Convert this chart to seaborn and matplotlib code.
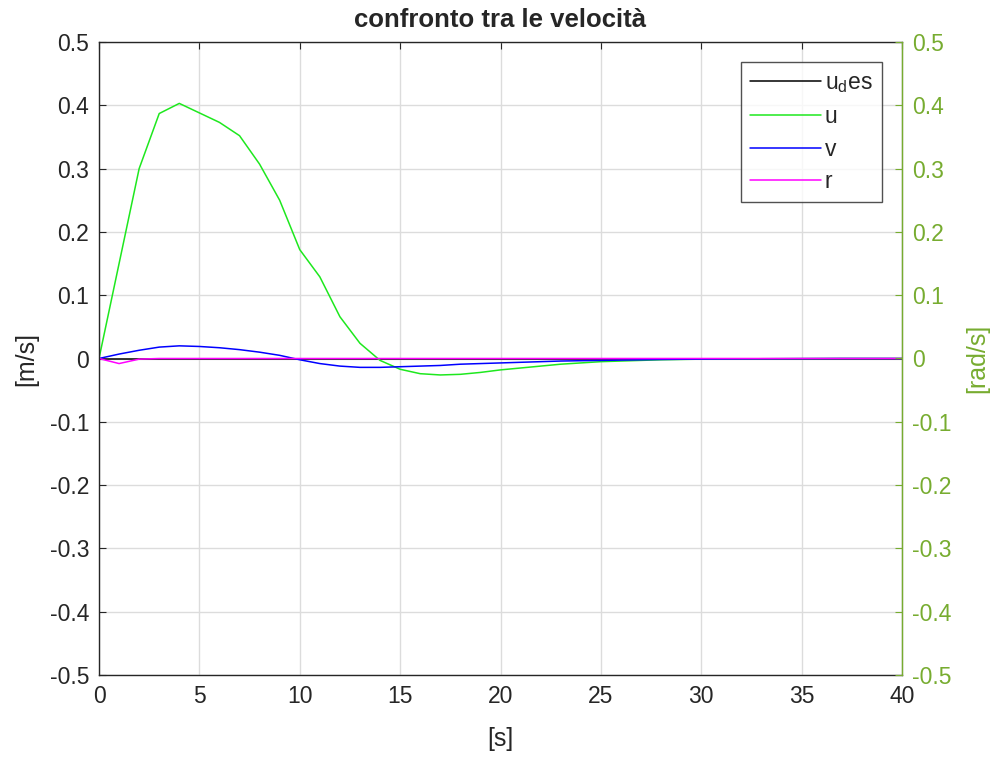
import numpy as np
import pandas as pd
import matplotlib
matplotlib.use("Agg")
import matplotlib.pyplot as plt
import seaborn as sns

# ---- data ----
t = list(range(0, 41))
u_des = [0.0] * 41
u = [0.0, 0.150, 0.300, 0.387, 0.403, 0.388, 0.373, 0.352, 0.307, 0.250,
     0.172, 0.129, 0.066, 0.024, -0.003, -0.017, -0.024, -0.026, -0.025, -0.022,
     -0.018, -0.015, -0.012, -0.009, -0.007, -0.005, -0.004, -0.003, -0.002, -0.0015,
     -0.001, -0.0008, -0.0006, -0.0004, -0.0003, -0.0002, -0.0001, 0.0, 0.0, 0.0, 0.0]
v = [0.0, 0.007, 0.013, 0.018, 0.020, 0.019, 0.017, 0.014, 0.010, 0.005,
     -0.002, -0.008, -0.012, -0.014, -0.014, -0.013, -0.012, -0.011, -0.009, -0.008,
     -0.007, -0.006, -0.005, -0.004, -0.0035, -0.003, -0.0025, -0.002, -0.0015, -0.0012,
     -0.001, -0.0008, -0.0006, -0.0004, -0.0003, -0.0002, -0.0001, 0.0, 0.0, 0.0, 0.0]
r = [0.0, -0.008, -0.001, 0.0, 0.0, 0.0, 0.0, 0.0, 0.0, 0.0,
     0.0, 0.0, 0.0, 0.0, 0.0, 0.0, 0.0, 0.0, 0.0, 0.0,
     0.0, 0.0, 0.0, 0.0, 0.0, 0.0, 0.0, 0.0, 0.0, 0.0,
     0.0, 0.0, 0.0, 0.0, 0.0, 0.0, 0.0, 0.0, 0.0, 0.0, 0.0]
series_names = ["u$_\\mathregular{d}$es", "u", "v", "r"]
series_colors = ["black", "#1ee81e", "#0000ff", "#ff00ff"]
y_ticks = [-0.5, -0.4, -0.3, -0.2, -0.1, 0, 0.1, 0.2, 0.3, 0.4, 0.5]
y_tick_labels = ["-0.5", "-0.4", "-0.3", "-0.2", "-0.1", "0", "0.1", "0.2", "0.3", "0.4", "0.5"]
x_ticks = [0, 5, 10, 15, 20, 25, 30, 35, 40]

sns.set_style("white")
plt.rcParams["font.family"] = ["Liberation Sans", "DejaVu Sans"]
plt.rcParams["mathtext.fontset"] = "custom"
plt.rcParams["mathtext.rm"] = "Liberation Sans"
plt.rcParams["mathtext.it"] = "Liberation Sans"

df = pd.DataFrame({"t": t * 4,
                   "val": u_des + u + v + r,
                   "series": sum([[n] * len(t) for n in series_names], [])})

fig = plt.figure(figsize=(10.02, 7.59), dpi=100)
ax = fig.add_axes([99 / 1002, 1 - 675 / 759, (902 - 99) / 1002, (675 - 42) / 759])

sns.lineplot(data=df, x="t", y="val", hue="series", hue_order=series_names,
             palette=series_colors, linewidth=1.1, ax=ax, legend=False,
             estimator=None, sort=False)

ax.set_xlim(0, 40)
ax.set_ylim(-0.5, 0.5)
ax.set_xticks(x_ticks)
ax.set_yticks(y_ticks)
ax.set_yticklabels(y_tick_labels)
ax.grid(True, color="#dcdcdc", linewidth=1.0)
ax.set_axisbelow(True)
ax.tick_params(direction="in", length=5, labelsize=16.5, colors="#262626",
               top=True, pad=7)
for s in ["left", "bottom", "top"]:
    ax.spines[s].set_color("#262626")
    ax.spines[s].set_linewidth(1.0)
ax.set_xlabel("[s]", fontsize=18, color="#262626", labelpad=14)
ax.set_ylabel("[m/s]", fontsize=18, color="#262626", labelpad=8)
ax.set_title("confronto tra le velocità", fontsize=18.5, fontweight="bold", pad=11)

green = "#77ac30"
ax2 = ax.twinx()
ax2.set_ylim(-0.5, 0.5)
ax2.set_yticks(y_ticks)
ax2.set_yticklabels(y_tick_labels)
ax2.tick_params(direction="in", length=5, labelsize=16.5, colors=green, pad=7)
ax2.spines["right"].set_color(green)
ax2.spines["right"].set_linewidth(1.0)
for s in ["left", "bottom", "top"]:
    ax2.spines[s].set_visible(False)
ax2.set_ylabel("[rad/s]", fontsize=18, color=green, labelpad=10)

handles = [plt.Line2D([0], [0], color=c, linewidth=1.1) for c in series_colors]
leg = ax.legend(handles, series_names, loc="upper right", bbox_to_anchor=(0.975, 0.968),
                fontsize=16.5, frameon=True, fancybox=False, edgecolor="#262626",
                handlelength=3.1, handletextpad=0.15, borderpad=0.4, labelspacing=0.42,
                borderaxespad=0)
leg.get_frame().set_linewidth(1.0)

fig.savefig("out.png", dpi=100, facecolor="white")
